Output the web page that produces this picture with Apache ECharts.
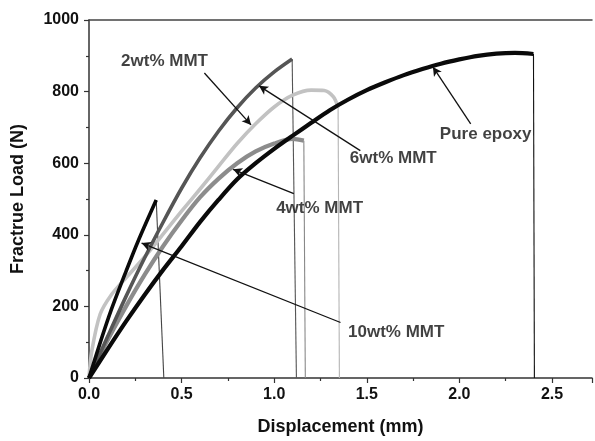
<!DOCTYPE html>
<html><head><meta charset="utf-8">
<script src="https://cdn.jsdelivr.net/npm/echarts@6/dist/echarts.min.js"></script>
<style>html,body{margin:0;padding:0;background:#fff}#c{width:595px;height:441px}</style>
</head><body><div id="c"></div>
<script>
// ---- data (displacement in mm, load in N) ----
const pureX = [0,0.1,0.2,0.3,0.4,0.5,0.6,0.7,0.8,0.9,1.0,1.1,1.2,1.3,1.4,1.5,1.6,1.7,1.8,1.9,2.0,2.1,2.2,2.3,2.4];
const pureY = [0,80,158,232,302,368,436,498,555,600,640,677,713,748,778,804,826,846,863,878,890,900,906,908,905];
const mmt2X = [0,0.1,0.2,0.3,0.4,0.5,0.6,0.7,0.8,0.9,1.0,1.097];
const mmt2Y = [0,115,228,335,435,530,615,690,755,810,855,891];
const mmt4X = [0,0.1,0.2,0.3,0.4,0.5,0.6,0.7,0.8,0.9,1.0,1.1,1.16];
const mmt4Y = [0,105,200,288,368,440,505,557,600,633,655,668,663];
const mmt6X = [0,0.015,0.06,0.12,0.2,0.3,0.4,0.5,0.6,0.7,0.8,0.9,1.0,1.1,1.2,1.27,1.32,1.345];
const mmt6Y = [0,75,178,232,280,338,402,466,528,592,655,710,757,790,804,803,785,755];
const mmt10X = [0,0.06,0.12,0.2,0.265,0.363];
const mmt10Y = [0,98,190,298,382,497];
// displacement where each fracture drop reaches zero load
const dropNames = ['Pure epoxy','2wt% MMT','4wt% MMT','6wt% MMT','10wt% MMT'];
const dropBaseX = [2.405,1.12,1.168,1.352,0.404];
// tick labels
const xTicks = [0.0,0.5,1.0,1.5,2.0,2.5];
const yTicks = [0,200,400,600,800,1000];
// annotations: label text, label position, arrow start, arrow tip (data units)
const noteText = ['2wt% MMT','6wt% MMT','4wt% MMT','10wt% MMT','Pure epoxy'];
const noteAt = [[0.408,885],[1.643,613],[1.245,474],[1.659,127],[2.142,682]];
const arrowFrom = [[0.623,852],[1.465,635],[1.106,515],[1.358,155],[2.061,710]];
const arrowTo = [[0.875,707],[0.918,816],[0.778,583],[0.284,377],[1.857,869]];

const zip = (xs, ys) => xs.map((x, i) => [x, ys[i]]);
const curves = {
  'Pure epoxy': {pts: zip(pureX, pureY), color: '#0a0a0a', w: 4.2, drop: '#111'},
  '2wt% MMT': {pts: zip(mmt2X, mmt2Y), color: '#555555', w: 3.6, drop: '#555'},
  '4wt% MMT': {pts: zip(mmt4X, mmt4Y), color: '#8c8c8c', w: 4.2, drop: '#888'},
  '6wt% MMT': {pts: zip(mmt6X, mmt6Y), color: '#c2c2c2', w: 3.6, drop: '#b5b5b5'},
  '10wt% MMT': {pts: zip(mmt10X, mmt10Y), color: '#0a0a0a', w: 3.6, drop: '#444'}
};
const order = ['6wt% MMT','4wt% MMT','2wt% MMT','10wt% MMT','Pure epoxy'];
const series = [];
dropNames.forEach((n, i) => {
  const p = curves[n].pts; const last = p[p.length - 1];
  series.push({type: 'line', name: n + ' drop', data: [last, [dropBaseX[i], 0]], symbol: 'none',
    lineStyle: {color: curves[n].drop, width: 1.1}, z: 2, silent: true});
});
order.forEach(n => {
  series.push({type: 'line', name: n, data: curves[n].pts, symbol: 'none', smooth: 0.3,
    lineStyle: {color: curves[n].color, width: curves[n].w, cap: 'butt', join: 'round'}, z: 3, silent: true});
});
series.push({type: 'line', name: 'arrows', data: [], symbol: 'none', silent: true, z: 5,
  markLine: {silent: true, symbol: ['none', 'arrow'], symbolSize: [7, 9], animation: false,
    label: {show: false}, lineStyle: {color: '#111', width: 1.3, type: 'solid'},
    data: arrowFrom.map((a, i) => [{coord: a}, {coord: arrowTo[i]}])}});
series.push({type: 'scatter', name: 'notes', symbolSize: 0, silent: true, z: 6,
  data: noteText.map((t, i) => ({value: noteAt[i], name: t})),
  label: {show: true, position: 'inside', formatter: '{b}', color: '#111', fontSize: 17,
    fontWeight: 'bold', fontFamily: 'Liberation Sans, Arial, sans-serif'}});

const onGrid = (v, arr) => arr.some(t => Math.abs(t - v) < 1e-6);
const chart = echarts.init(document.getElementById('c'), null, {renderer: 'canvas'});
chart.setOption({
  animation: false,
  backgroundColor: '#fff',
  grid: {left: 89, top: 20, right: 0, bottom: 60.3},
  xAxis: [{
    type: 'value', min: 0, max: 2.716, interval: 0.5,
    name: 'Displacement (mm)', nameLocation: 'middle', nameGap: 40,
    nameTextStyle: {fontSize: 18, fontWeight: 'bold', color: '#111', fontFamily: 'Liberation Sans, Arial, sans-serif'},
    axisLine: {lineStyle: {color: '#333', width: 1.5}},
    axisTick: {show: true, inside: false, length: 5, lineStyle: {color: '#333', width: 1.2}},
    minorTick: {show: true, splitNumber: 2, length: 3, lineStyle: {color: '#333', width: 1.2}},
    splitLine: {show: false},
    axisLabel: {margin: 9, fontSize: 16, fontWeight: 'bold', color: '#111', fontFamily: 'Liberation Sans, Arial, sans-serif',
      formatter: v => onGrid(v, xTicks) ? v.toFixed(1) : ''}
  }, {
    type: 'value', position: 'top', min: 0, max: 2.716,
    axisLine: {show: true, onZero: false, lineStyle: {color: '#444', width: 1.5}},
    axisTick: {show: false}, axisLabel: {show: false}, splitLine: {show: false}
  }],
  yAxis: {
    type: 'value', min: 0, max: 1000, interval: 200,
    name: 'Fractrue Load (N)', nameLocation: 'middle', nameGap: 62, nameRotate: 90,
    nameTextStyle: {fontSize: 18, fontWeight: 'bold', color: '#111', fontFamily: 'Liberation Sans, Arial, sans-serif'},
    axisLine: {show: true, lineStyle: {color: '#333', width: 1.5}},
    axisTick: {show: true, inside: false, length: 5, lineStyle: {color: '#333', width: 1.2}},
    minorTick: {show: true, splitNumber: 2, length: 3, lineStyle: {color: '#333', width: 1.2}},
    splitLine: {show: false},
    axisLabel: {margin: 10, fontSize: 16, fontWeight: 'bold', color: '#111', fontFamily: 'Liberation Sans, Arial, sans-serif',
      formatter: v => onGrid(v, yTicks) ? String(v) : ''}
  },
  series: series
});
</script></body></html>
